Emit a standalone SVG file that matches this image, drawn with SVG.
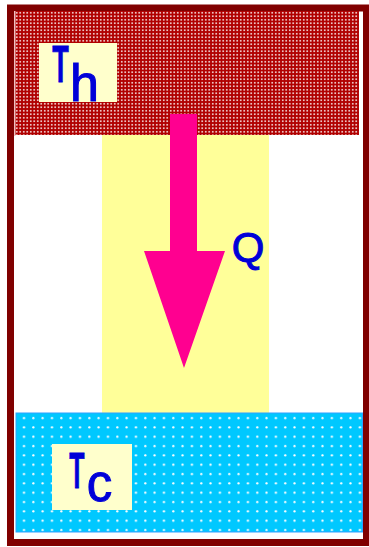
<svg xmlns="http://www.w3.org/2000/svg" width="369" height="547" viewBox="0 0 369 547">
<defs>
<pattern id="hotDots" x="15" y="11" width="3.5" height="3.5" patternUnits="userSpaceOnUse">
<rect width="3.5" height="3.5" fill="#b00000"/>
<circle cx="1.75" cy="1.75" r="0.9" fill="#ffffff"/>
</pattern>
<pattern id="coldDots" x="18" y="415" width="9.33" height="9.33" patternUnits="userSpaceOnUse">
<rect width="9.33" height="9.33" fill="#00c8ff"/>
<circle cx="6" cy="3" r="1.1" fill="#ffffff"/>
</pattern>
</defs>
<style>
.lbl{font-family:"Liberation Sans",Arial,sans-serif;fill:#0000d8;stroke:#0000d8;stroke-width:1;}
.big{font-weight:bold;stroke-width:0.8;}
.box{fill:#ffffcc;}
</style>
<rect x="0" y="0" width="369" height="547" fill="#ffffff"/>
<g id="frame">
<rect x="10.5" y="8" width="356" height="534.5" fill="#ffffff" stroke="#800000" stroke-width="7"/>
</g>
<g id="column">
<rect x="102" y="135" width="167" height="278" fill="#ffff99"/>
</g>
<g id="hot">
<rect x="15" y="11" width="344" height="124" fill="url(#hotDots)"/>
<rect x="14" y="11" width="1.5" height="125" fill="#f0c0c0"/>
<rect x="39" y="43" width="78" height="59" class="box"/>
<text class="lbl big" font-size="52" text-anchor="middle" transform="translate(60.5,81.5) scale(0.52,1)">T</text>
<text class="lbl" x="84.5" y="101" font-size="52" text-anchor="middle">h</text>
</g>
<g id="cold">
<rect x="16" y="413" width="346.5" height="119" fill="url(#coldDots)" stroke="#30a0ff" stroke-width="1"/>
<rect x="52" y="444" width="80" height="66" class="box"/>
<text class="lbl big" font-size="50" text-anchor="middle" transform="translate(77,488) scale(0.5,1)">T</text>
<text class="lbl" x="99.5" y="501" font-size="51" text-anchor="middle">c</text>
</g>
<g id="connectors">
<polygon points="170,114 197,114 197,251 225,251 184,368 144,251 170,251" fill="#ff0090"/>
<text class="lbl" x="248" y="262" font-size="42" text-anchor="middle">Q</text>
</g>
</svg>
